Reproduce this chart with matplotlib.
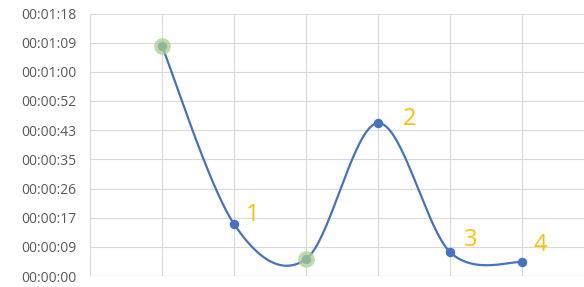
import numpy as np
import matplotlib
matplotlib.use("Agg")
import matplotlib.pyplot as plt
from matplotlib.ticker import FixedLocator, FuncFormatter

# data (seconds)
x_pos = [1, 2, 3, 4, 5, 6]
seconds = [68.1, 15.4, 5.0, 45.3, 7.1, 4.1]
highlight_idx = [0, 2]
label_idx = [1, 3, 4, 5]
label_text = ["1", "2", "3", "4"]

# hand-placed label offsets in pixels (right, up)
label_offsets = [(12, 3), (25, -2), (14, 6), (12, 11)]

STEP = 8.64  # 0.0001 day
BLUE = "#4472C4"
GREEN = "#A9D18E"
GOLD = "#FFC000"
GRID = "#D9D9D9"


def smooth(xs, ys, n=40):
    # Catmull-Rom style bezier like Excel's smoothed line
    xs = np.asarray(xs, float)
    ys = np.asarray(ys, float)
    px = np.concatenate([[xs[0]], xs, [xs[-1]]])
    py = np.concatenate([[ys[0]], ys, [ys[-1]]])
    out_x, out_y = [], []
    t = np.linspace(0, 1, n)
    for i in range(1, len(px) - 2):
        p0 = np.array([px[i], py[i]])
        p3 = np.array([px[i + 1], py[i + 1]])
        p1 = p0 + (np.array([px[i + 1], py[i + 1]]) - np.array([px[i - 1], py[i - 1]])) / 6
        p2 = p3 - (np.array([px[i + 2], py[i + 2]]) - np.array([px[i], py[i]])) / 6
        b = ((1 - t) ** 3)[:, None] * p0 + (3 * (1 - t) ** 2 * t)[:, None] * p1 \
            + (3 * (1 - t) * t ** 2)[:, None] * p2 + (t ** 3)[:, None] * p3
        out_x.extend(b[:, 0])
        out_y.extend(b[:, 1])
    return out_x, out_y


def fmt_time(v, _pos):
    s = int(round(v))
    return f"{s // 3600:02d}:{(s % 3600) // 60:02d}:{s % 60:02d}"


fig = plt.figure(figsize=(5.84, 2.87), dpi=100)
ax = fig.add_axes([90 / 584, 11 / 287, 504 / 584, 262.5 / 287])

ax.set_xlim(0, 7)
ax.set_ylim(0, 9 * STEP)
ax.xaxis.set_major_locator(FixedLocator(range(0, 8)))
ax.yaxis.set_major_locator(FixedLocator([k * STEP for k in range(10)]))
ax.yaxis.set_major_formatter(FuncFormatter(fmt_time))
ax.set_xticklabels([])
ax.tick_params(length=0, labelsize=10, labelcolor="#595959", pad=10)
for lbl in ax.get_yticklabels():
    lbl.set_fontfamily("Open Sans")
ax.grid(True, color=GRID, linewidth=0.8)
for s in ax.spines.values():
    s.set_visible(False)
ax.axhline(0, color=GRID, linewidth=1.0, zorder=1)

sx, sy = smooth(x_pos, seconds)
ax.plot(sx, sy, color=BLUE, linewidth=1.6, zorder=3, solid_capstyle="round")
ax.plot(x_pos, seconds, "o", color=BLUE, markersize=5.8, zorder=4, linestyle="none")

hx = [x_pos[i] for i in highlight_idx]
hy = [seconds[i] for i in highlight_idx]
ax.plot(hx, hy, "o", color=GREEN, alpha=0.75, markersize=12, markeredgewidth=0, zorder=5)

for i, t, off in zip(label_idx, label_text, label_offsets):
    ax.annotate(t, (x_pos[i], seconds[i]), xytext=off, textcoords="offset pixels",
                color=GOLD, fontsize=17, fontfamily="Open Sans", ha="left", va="baseline")

fig.savefig("out.png", dpi=100)
